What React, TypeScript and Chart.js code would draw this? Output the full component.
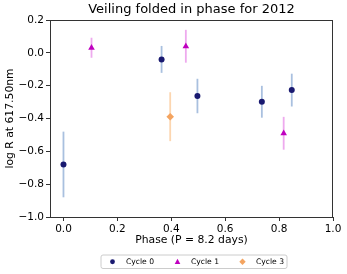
import React, { useEffect, useRef } from "react";
import { Chart, registerables } from "chart.js";

Chart.register(...registerables);

const cycle0Phase = [0.0, 0.364, 0.497, 0.736, 0.847];
const cycle0LogR = [-0.68, -0.04, -0.263, -0.298, -0.227];
const cycle0Err = [0.2, 0.082, 0.105, 0.097, 0.1];

const cycle1Phase = [0.104, 0.454, 0.817];
const cycle1LogR = [0.031, 0.04, -0.49];
const cycle1Err = [0.061, 0.1, 0.1];

const cycle3Phase = [0.396];
const cycle3LogR = [-0.389];
const cycle3Err = [0.149];

const xTicks = [0.0, 0.2, 0.4, 0.6, 0.8, 1.0];
const yTicks = [-1.0, -0.8, -0.6, -0.4, -0.2, 0.0, 0.2];

const seriesLabels = ["Cycle 0", "Cycle 1", "Cycle 3"];
const markerColors = ["#191970", "#bf00bf", "#f4a460"];
const errColors = ["#a9c0df", "#eeaaee", "#fcd6b0"];
const pointStyles = ["circle", "triangle", "rectRot"];
const pointSizes = [3, 3.8, 3.8];

const FONT = "'DejaVu Sans', sans-serif";

const errorBarPlugin = {
  id: "errorBars",
  beforeDatasetsDraw(chart: any) {
    const { ctx, scales } = chart;
    const xs = scales.x;
    const ys = scales.y;
    ctx.save();
    chart.data.datasets.forEach((ds: any, i: number) => {
      ctx.strokeStyle = errColors[i];
      ctx.lineWidth = 1.8;
      ds.data.forEach((p: any) => {
        const x = xs.getPixelForValue(p.x);
        ctx.beginPath();
        ctx.moveTo(x, ys.getPixelForValue(p.y + p.err));
        ctx.lineTo(x, ys.getPixelForValue(p.y - p.err));
        ctx.stroke();
      });
    });
    ctx.restore();
  },
};

const framePlugin = {
  id: "frameAndLegend",
  afterDraw(chart: any) {
    const { ctx, chartArea } = chart;
    ctx.save();
    ctx.strokeStyle = "#333333";
    ctx.lineWidth = 1;
    ctx.strokeRect(
      Math.round(chartArea.left) + 0.5,
      Math.round(chartArea.top) + 0.5,
      Math.round(chartArea.right - chartArea.left) - 1,
      Math.round(chartArea.bottom - chartArea.top)
    );

    // legend
    const bx = 101, by = 255, bw = 186, bh = 13.5, r = 2;
    ctx.fillStyle = "rgba(255,255,255,0.9)";
    ctx.strokeStyle = "#cccccc";
    ctx.lineWidth = 1;
    ctx.beginPath();
    ctx.moveTo(bx + r, by);
    ctx.lineTo(bx + bw - r, by);
    ctx.arcTo(bx + bw, by, bx + bw, by + r, r);
    ctx.lineTo(bx + bw, by + bh - r);
    ctx.arcTo(bx + bw, by + bh, bx + bw - r, by + bh, r);
    ctx.lineTo(bx + r, by + bh);
    ctx.arcTo(bx, by + bh, bx, by + bh - r, r);
    ctx.lineTo(bx, by + r);
    ctx.arcTo(bx, by, bx + r, by, r);
    ctx.closePath();
    ctx.fill();
    ctx.stroke();

    const cy = by + bh / 2;
    const markerXs = [112.5, 177.5, 242.5];
    ctx.font = `7.6px ${FONT}`;
    ctx.textBaseline = "middle";
    ctx.textAlign = "left";
    seriesLabels.forEach((lab, i) => {
      const mx = markerXs[i];
      ctx.fillStyle = markerColors[i];
      ctx.beginPath();
      if (i === 0) {
        ctx.arc(mx, cy, 2.4, 0, Math.PI * 2);
      } else if (i === 1) {
        ctx.moveTo(mx, cy - 3);
        ctx.lineTo(mx + 2.8, cy + 2.2);
        ctx.lineTo(mx - 2.8, cy + 2.2);
        ctx.closePath();
      } else {
        ctx.moveTo(mx, cy - 3.2);
        ctx.lineTo(mx + 3.2, cy);
        ctx.lineTo(mx, cy + 3.2);
        ctx.lineTo(mx - 3.2, cy);
        ctx.closePath();
      }
      ctx.fill();
      ctx.fillStyle = "#000000";
      ctx.fillText(lab, mx + 13.5, cy + 0.5);
    });
    ctx.restore();
  },
};

function makeData(px: number[], py: number[], pe: number[]) {
  return px.map((x, i) => ({ x, y: py[i], err: pe[i] }));
}

const fmt = (v: number) => {
  const s = Math.abs(v).toFixed(1);
  return v < -1e-9 ? "\u2212" + s : s;
};

export default function App() {
  const ref = useRef<HTMLCanvasElement | null>(null);
  useEffect(() => {
    document.body.style.margin = "0";
    const canvas = ref.current!;
    const sets = [
      makeData(cycle0Phase, cycle0LogR, cycle0Err),
      makeData(cycle1Phase, cycle1LogR, cycle1Err),
      makeData(cycle3Phase, cycle3LogR, cycle3Err),
    ];
    const chart = new Chart(canvas, {
      type: "scatter",
      data: {
        datasets: sets.map((d, i) => ({
          label: seriesLabels[i],
          data: d,
          pointStyle: pointStyles[i] as any,
          pointRadius: pointSizes[i],
          pointHoverRadius: pointSizes[i],
          backgroundColor: markerColors[i],
          borderColor: markerColors[i],
          borderWidth: 0,
        })),
      },
      options: {
        responsive: false,
        animation: false,
        layout: { padding: { left: 0, right: 14, top: 0, bottom: 27 } },
        plugins: {
          legend: { display: false },
          tooltip: { enabled: false },
          title: {
            display: true,
            text: "Veiling folded in phase for 2012",
            fullSize: false,
            color: "#000000",
            font: { family: FONT, size: 13, weight: "normal" },
            padding: { top: 2, bottom: 2.4 },
          },
        },
        scales: {
          x: {
            type: "linear",
            min: -0.05,
            max: 1.0,
            afterBuildTicks: (s: any) => {
              s.ticks = xTicks.map((v) => ({ value: v }));
            },
            afterFit: (s: any) => {
              s.height = 30;
            },
            grid: {
              drawOnChartArea: false,
              drawTicks: true,
              tickLength: 4,
              color: "#333333",
            },
            border: { display: false },
            ticks: {
              color: "#000000",
              padding: 2,
              maxRotation: 0,
              autoSkip: false,
              font: { family: FONT, size: 10.5 },
              callback: (v: any) => fmt(Number(v)),
            },
            title: {
              display: true,
              text: "Phase (P = 8.2 days)",
              color: "#000000",
              font: { family: FONT, size: 10.8 },
              padding: { top: 0, bottom: 0 },
            },
          },
          y: {
            type: "linear",
            min: -1.0,
            max: 0.2,
            afterBuildTicks: (s: any) => {
              s.ticks = yTicks.map((v) => ({ value: v }));
            },
            afterFit: (s: any) => {
              s.width = 50;
            },
            grid: {
              drawOnChartArea: false,
              drawTicks: true,
              tickLength: 4,
              color: "#333333",
            },
            border: { display: false },
            ticks: {
              color: "#000000",
              padding: 2,
              autoSkip: false,
              font: { family: FONT, size: 10.5 },
              callback: (v: any) => fmt(Number(v)),
            },
            title: {
              display: true,
              text: "log R at 617.50nm",
              color: "#000000",
              font: { family: FONT, size: 10.8 },
              padding: { top: 4, bottom: 0 },
            },
          },
        },
      },
      plugins: [errorBarPlugin, framePlugin],
    });
    return () => chart.destroy();
  }, []);
  return <canvas ref={ref} width={347} height={274} style={{ display: "block" }} />;
}
